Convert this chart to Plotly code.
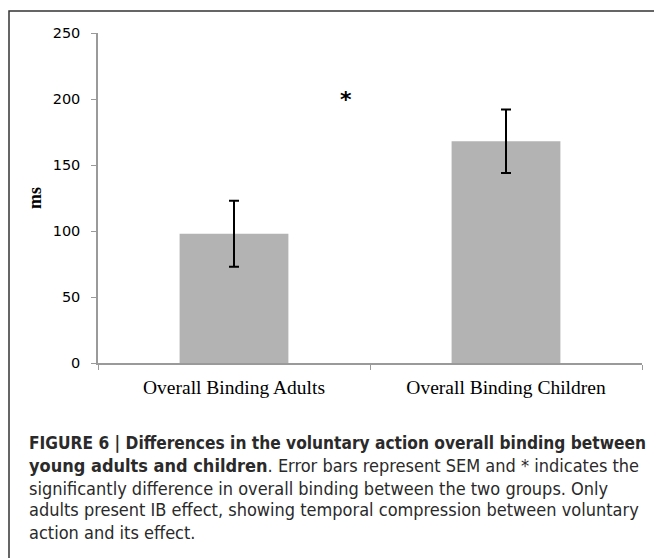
import plotly.graph_objects as go

categories = ["Overall Binding Adults", "Overall Binding Children"]
means = [98, 168]
sem = [25, 24]
y_ticks = [0, 50, 100, 150, 200, 250]
caption_lines = [
    "<b>FIGURE 6 | Differences in the voluntary action overall binding between</b>",
    "<b>young adults and children</b>. Error bars represent SEM and * indicates the",
    "significantly difference in overall binding between the two groups. Only",
    "adults present IB effect, showing temporal compression between voluntary",
    "action and its effect.",
]

# page body has an 8px margin; figure coordinates are offset accordingly
OFF = 8
W, H = 662 - OFF, 558 - OFF
L, T = 98 - OFF, 33 - OFF
pw = 544
ph = 330
R = W - L - pw
B = H - T - ph

def px_x(x):
    return (x - OFF - L) / pw

def px_y(y):
    return (T + ph - (y - OFF)) / ph

fig = go.Figure()
fig.add_trace(go.Bar(
    x=categories, y=means, width=0.4,
    marker=dict(color="#b3b3b3", line=dict(width=0)),
    error_y=dict(type="data", array=sem, visible=True, color="black", thickness=2, width=5),
    showlegend=False,
))

fig.add_annotation(x=0.41, y=200, xref="x", yref="y", text="<b>*</b>", showarrow=False,
                   font=dict(family="DejaVu Sans", size=22, color="black"), yanchor="middle")

caption_y = [443, 466, 488, 510, 532]
caption_size = [17.2, 18, 18, 18, 18]
for line, yy, fs in zip(caption_lines, caption_y, caption_size):
    fig.add_annotation(x=px_x(27), y=px_y(yy), xref="paper", yref="paper", text=line,
                       showarrow=False, xanchor="left", yanchor="middle",
                       font=dict(family="DejaVu Sans Condensed, Roboto, sans-serif", size=fs, color="#2a2a2a"))

fig.add_shape(type="rect", xref="paper", yref="paper",
              x0=px_x(9), x1=px_x(690), y0=px_y(600), y1=px_y(11),
              line=dict(color="#333333", width=1.5), fillcolor="rgba(0,0,0,0)", layer="below")

fig.update_layout(
    width=W, height=H,
    margin=dict(l=L, r=R, t=T, b=B),
    paper_bgcolor="white", plot_bgcolor="white",
    xaxis=dict(type="category", range=[-0.5, 1.5], showline=True, linecolor="#9a9a9a", linewidth=1.5,
               ticks="outside", tickson="boundaries", ticklen=5, tickcolor="#9a9a9a",
               showgrid=False, zeroline=False, ticklabelstandoff=6,
               tickfont=dict(family="Liberation Serif", size=19.5, color="black")),
    yaxis=dict(range=[0, 250], tickvals=y_ticks, showline=True, linecolor="#9a9a9a", linewidth=1.5,
               ticks="outside", ticklen=5, tickcolor="#9a9a9a", showgrid=False, zeroline=False,
               ticklabelstandoff=8,
               tickfont=dict(family="DejaVu Sans", size=14.5, color="black"),
               title=dict(text="<b>ms</b>", font=dict(family="Liberation Serif", size=18, color="black"), standoff=6)),
)

fig.write_html("out.html")
